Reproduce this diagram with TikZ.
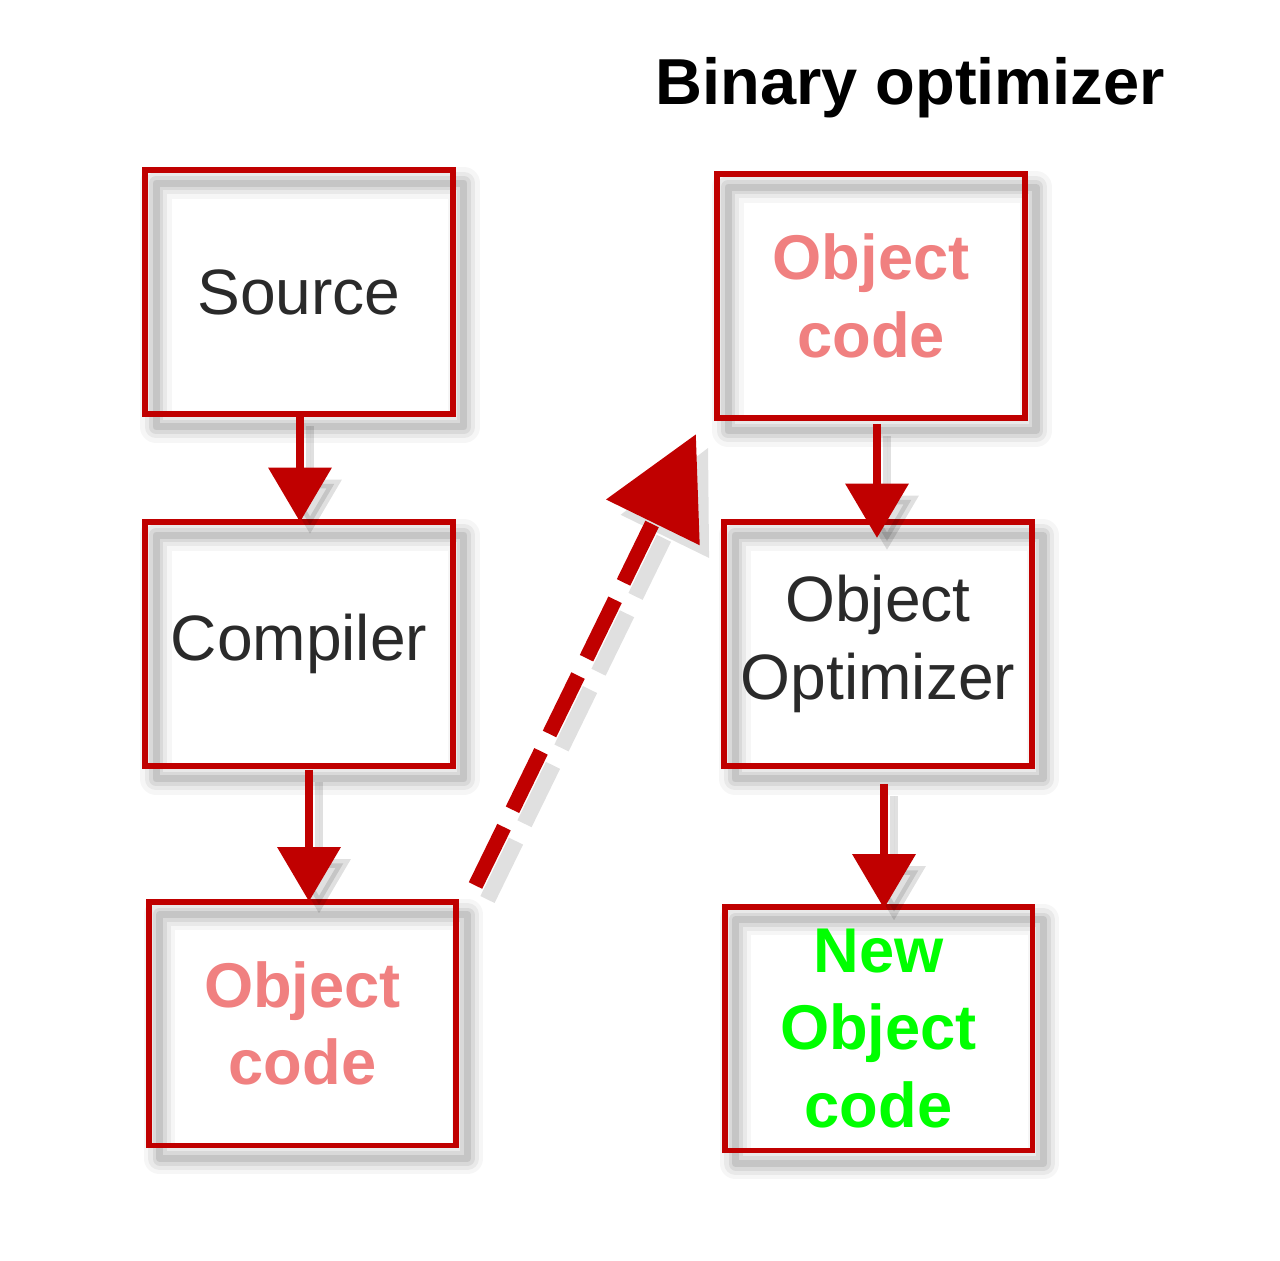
\documentclass[tikz,border=0pt]{standalone}
\usepackage{fontspec}
\setmainfont{Liberation Sans}
\usetikzlibrary{arrows.meta,calc}
\definecolor{boxred}{HTML}{C00000}
\definecolor{textdark}{HTML}{2A2A2A}
\definecolor{pinkc}{HTML}{F08080}
\definecolor{greenc}{HTML}{00FF00}
\begin{document}
\begin{tikzpicture}[x=0.02cm,y=-0.02cm,
  sh/.style={
    preaction={draw=black, draw opacity=0.035, line width=18pt, line join=round, transform canvas={shift={(11,13)}}},
    preaction={draw=black, draw opacity=0.05, line width=13pt, line join=round, transform canvas={shift={(11,13)}}},
    preaction={draw=black, draw opacity=0.07, line width=8pt, line join=round, transform canvas={shift={(11,13)}}},
    preaction={draw=black, draw opacity=0.09, line width=4pt, line join=round, transform canvas={shift={(11,13)}}}},
  ash/.style={
    preaction={draw=black, fill=black, draw opacity=0.12, fill opacity=0.12, line width=#1, transform canvas={shift={(10,12)}}}},
  box/.style={sh, draw=boxred, line width=3.4pt, minimum width=6.16cm, minimum height=4.88cm,
    inner sep=0pt, outer sep=0pt, align=center, text=textdark, font=\fontsize{36.5}{44}\selectfont},
  pinkbox/.style={box, text=pinkc, font=\fontsize{36}{44}\selectfont\bfseries},
  greenbox/.style={box, text=greenc, font=\fontsize{36}{44}\selectfont\bfseries},
  flow/.style={ash=5pt, draw=boxred, line width=5pt, -{Triangle[length=31pt,width=35pt]}, fill=boxred},
  jump/.style={draw=boxred, line width=8.5pt, dash pattern=on 37pt off 11pt, -{Triangle[length=56pt,width=57pt]}}
]
\useasboundingbox (0,0) rectangle (1280,1260);

\node[font=\bfseries\fontsize{37}{44}\selectfont] (title) at (910,88) {Binary optimizer};

\node[box] (src) at (299,292) {Source};
\node[box] (comp) at (299,644) {Compiler};
\node[pinkbox] (objL) at (302.5,1023.5) {Object\\code};

\node[pinkbox] (objR) at (871,296) {Object\\code};
\node[box] (opt) at (878,644) {Object\\Optimizer};
\node[greenbox] (new) at (878.5,1028.5) {New\\Object\\code};

\draw[flow] ([xshift=0.02cm]src.south) -- ([xshift=0.02cm]comp.north);
\draw[flow] ($(comp.south)+(10,4)$) -- ($(comp.south |- objL.north)+(10,0)$);
\draw[flow] ($(objR.south)+(6,6)$) -- ($(objR.south |- opt.north)+(6,16)$);
\draw[flow] ($(opt.south)+(6,18)$) -- ($(opt.south |- new.north)+(6,2)$);

\coordinate (js) at ($(objL.north east)+(19,-16)$);
\coordinate (je) at ($(objR.south west)+(-21,16)$);
\draw[draw=black, draw opacity=0.12, line width=9pt, dash pattern=on 37pt off 11pt,
  transform canvas={shift={(12,14)}}] (js) -- ($(js)!0.8!(je)$);
\fill[black, opacity=0.12, transform canvas={shift={(12,14)}}]
  (je) -- ($(je)!56pt!(js)!28pt!90:(je)$) -- ($(je)!56pt!(js)!28pt!-90:(je)$) -- cycle;
\draw[jump] (js) -- (je);
\end{tikzpicture}
\end{document}
